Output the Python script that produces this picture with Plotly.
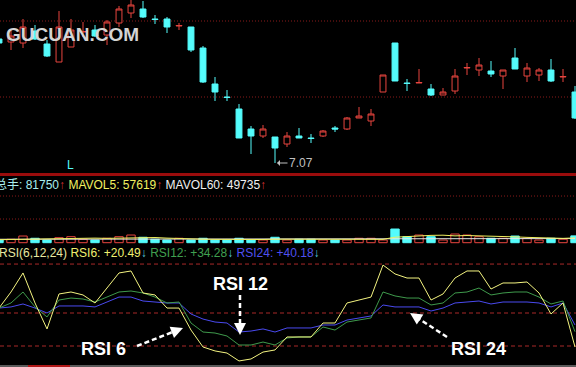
import plotly.graph_objects as go

W, H = 576, 367

# ---------------- data ----------------
idx = list(range(49))
opens  = [8.31,8.28,8.27,8.39,8.26,8.08,8.23,8.38,8.40,8.35,
          8.47,8.57,8.61,8.51,8.51,8.44,8.43,8.22,7.86,7.73,
          7.61,7.41,7.34,7.33,7.26,7.34,7.32,7.34,7.42,7.41,
          7.52,7.49,7.78,8.27,7.87,7.87,7.81,7.75,7.79,8.02,
          8.00,7.99,7.94,8.12,7.94,7.95,8.00,7.93,7.78]
closes = [8.27,8.34,8.43,8.31,8.14,8.43,8.40,8.385,8.34,8.48,
          8.61,8.65,8.53,8.505,8.43,8.445,8.20,7.88,7.78,7.725,
          7.32,7.34,7.41,7.22,7.34,7.32,7.315,7.39,7.41,7.52,
          7.54,7.56,7.95,7.89,7.865,7.875,7.75,7.78,7.94,8.025,
          8.05,7.96,8.00,8.01,8.02,8.00,7.89,7.935,7.52]
highs  = [8.33,8.40,8.51,8.45,8.30,8.59,8.51,8.48,8.45,8.50,
          8.64,8.72,8.69,8.55,8.53,8.47,8.43,8.24,7.93,7.80,
          7.66,7.44,7.45,7.33,7.38,7.42,7.36,7.40,7.44,7.53,
          7.63,7.61,7.95,8.27,7.91,8.01,7.86,7.82,8.01,8.07,
          8.12,8.09,8.00,8.22,8.07,8.02,8.11,8.01,7.84]
lows   = [8.25,8.20,8.22,8.30,8.13,8.08,8.23,8.33,8.33,8.25,
          8.43,8.52,8.52,8.46,8.37,8.40,8.18,7.87,7.69,7.69,
          7.32,7.16,7.32,7.07,7.23,7.32,7.27,7.33,7.38,7.40,
          7.52,7.44,7.78,7.89,7.79,7.87,7.74,7.75,7.76,7.95,
          7.94,7.93,7.81,8.01,7.88,7.89,7.88,7.88,7.51]

volume = [32000,41000,80000,53000,32000,60000,72000,41000,32000,53000,
          72000,92000,65000,41000,32000,53000,32000,53000,32000,32000,
          53000,32000,32000,65000,32000,41000,41000,32000,32000,32000,
          53000,53000,32000,164000,72000,92000,72000,32000,104000,92000,
          72000,53000,53000,80000,53000,32000,53000,41000,81750]
mavol5 = [36000,38000,45000,50000,48000,52000,56000,58000,55000,52000,
          54000,62000,64000,62000,55000,48000,44000,42000,40000,38000,
          40000,40000,38000,42000,42000,40000,42000,38000,36000,34000,
          38000,40000,40000,66000,74000,84000,88000,90000,82000,86000,
          84000,80000,74000,70000,64000,60000,56000,52000,57619]
mavol60 = [41000,41200,41500,41800,42000,42300,42600,42800,43000,43300,
           43600,44000,44200,44300,44300,44400,44200,44000,43800,43600,
           43500,43300,43100,43000,42800,42600,42400,42200,42000,41900,
           41800,41800,41700,43500,44500,45500,46000,46200,47000,47500,
           48000,48200,48400,48700,48900,49100,49300,49500,49735]

rsi6  = [54.5,69.1,86.4,59.1,35.5,67.3,69.1,66.4,59.1,72.7,
         86.4,88.2,68.2,66.4,54.5,54.5,34.5,19.1,15.5,13.6,
         6.4,8.2,14.5,16.4,28.2,28.2,28.2,40.9,40.9,59.1,
         61.8,64.5,93.6,85.5,81.8,81.8,61.8,67.3,81.8,88.2,
         88.2,71.8,77.3,77.3,78.2,68.2,49.1,59.1,19.1]
rsi12 = [54.5,59.1,69.1,55.5,46.4,61.8,63.6,62.7,60.0,64.5,
         69.1,70.0,68.2,64.5,59.1,60.0,40.9,32.7,31.8,29.1,
         20.9,20.9,23.6,20.9,27.3,28.2,28.2,37.3,34.5,41.8,
         43.6,45.5,69.1,65.5,63.6,63.6,57.3,59.1,68.2,69.1,
         72.7,66.4,68.2,69.1,69.1,64.5,58.2,60.9,33.0]
rsi24 = [54.5,55.5,58.2,54.5,50.0,56.4,56.4,56.4,55.5,60.0,
         64.5,64.5,60.9,60.0,59.1,59.1,49.1,44.5,41.8,40.9,
         32.7,33.6,35.5,32.7,36.4,36.4,36.4,39.1,39.1,43.6,
         45.5,47.3,57.3,55.5,55.5,55.5,51.8,54.5,59.1,60.0,
         60.9,58.2,60.0,60.0,60.0,59.1,55.5,59.1,39.1]

low_label = "7.07"
vol_total, mavol5_last, mavol60_last = 81750, 57619, 49735
rsi6_last, rsi12_last, rsi24_last = "+20.49", "+34.28", "+40.18"

price_grid = [8.49, 7.73]
vol_grid = [560000, 284000]
rsi_levels = [94.5, 50, 20]

# ---------------- styles ----------------
RED = "#e8453f"
CYAN = "#54fcfc"
GRID = "#8a1a1a"
FONT = "Liberation Sans, Arial, Noto Sans CJK SC, sans-serif"

def px(x, y):
    return x / W, 1 - y / H

fig = go.Figure()

fig.add_trace(go.Candlestick(
    x=idx, open=opens, high=highs, low=lows, close=closes,
    increasing=dict(line=dict(color=RED, width=1), fillcolor="#000000"),
    decreasing=dict(line=dict(color=CYAN, width=1), fillcolor=CYAN),
    whiskerwidth=0, hoverinfo="skip", showlegend=False))

up = [c >= o for o, c in zip(opens, closes)]
fig.add_trace(go.Bar(
    x=idx, y=volume, yaxis="y2", width=0.7,
    marker=dict(color=["#000000" if u else CYAN for u in up],
                line=dict(color=[RED if u else CYAN for u in up], width=1)),
    hoverinfo="skip", showlegend=False))
fig.add_trace(go.Scatter(x=idx, y=mavol60, yaxis="y2", mode="lines",
                         line=dict(color="#e8e8e8", width=1), hoverinfo="skip", showlegend=False))
fig.add_trace(go.Scatter(x=idx, y=mavol5, yaxis="y2", mode="lines",
                         line=dict(color="#f0f060", width=1), hoverinfo="skip", showlegend=False))

fig.add_trace(go.Scatter(x=idx, y=rsi24, yaxis="y3", mode="lines",
                         line=dict(color="#4a4af0", width=1), hoverinfo="skip", showlegend=False))
fig.add_trace(go.Scatter(x=idx, y=rsi12, yaxis="y3", mode="lines",
                         line=dict(color="#3f9a4c", width=1), hoverinfo="skip", showlegend=False))
fig.add_trace(go.Scatter(x=idx, y=rsi6, yaxis="y3", mode="lines",
                         line=dict(color="#f4f480", width=1), hoverinfo="skip", showlegend=False))

shapes = []
for p in price_grid:
    shapes.append(dict(type="line", xref="paper", x0=0, x1=1, yref="y", y0=p, y1=p,
                       line=dict(color=GRID, width=1, dash="1px,2px"), layer="below"))
for v in vol_grid:
    shapes.append(dict(type="line", xref="paper", x0=0, x1=1, yref="y2", y0=v, y1=v,
                       line=dict(color=GRID, width=1, dash="1px,2px"), layer="below"))
for r in rsi_levels:
    shapes.append(dict(type="line", xref="paper", x0=0, x1=1, yref="y3", y0=r, y1=r,
                       line=dict(color="#a82828", width=1, dash="4px,3px"), layer="below"))
# panel separator
sx0, sy = px(0, 174.5)
shapes.append(dict(type="line", xref="paper", yref="paper", x0=0, x1=1, y0=sy, y1=sy,
                   line=dict(color="#9a0c0c", width=3)))
# bottom strip
_, b0 = px(0, 367)
_, b1 = px(0, 365)
shapes.append(dict(type="rect", xref="paper", yref="paper", x0=0, x1=1, y0=b0, y1=b1,
                   fillcolor="#5a5a5a", line=dict(width=0)))
rx0, _ = px(28, 0)
rx1, _ = px(70, 0)
shapes.append(dict(type="rect", xref="paper", yref="paper", x0=rx0, x1=rx1, y0=b0, y1=b1,
                   fillcolor="#b01818", line=dict(width=0)))

# dashed arrow shafts
arrows = [((240, 295), (240, 335)), ((137, 346), (183, 328)), ((447, 337), (410, 313))]
annotations = []
for (tx, ty), (hx, hy) in arrows:
    dx, dy = hx - tx, hy - ty
    L = (dx * dx + dy * dy) ** 0.5
    ux, uy = dx / L, dy / L
    ex, ey = hx - 10 * ux, hy - 10 * uy
    a0 = px(tx, ty)
    a1 = px(ex, ey)
    shapes.append(dict(type="line", xref="paper", yref="paper", x0=a0[0], y0=a0[1], x1=a1[0], y1=a1[1],
                       line=dict(color="#ffffff", width=2.5, dash="5px,3px")))
    tip = px(hx, hy)
    annotations.append(dict(xref="paper", yref="paper", x=tip[0], y=tip[1], text="",
                            showarrow=True, arrowhead=2, arrowsize=1.2, arrowwidth=2,
                            arrowcolor="#ffffff", ax=-14 * ux, ay=-14 * uy))

def label(x, y, text, size=12, color="#ffffff", anchor="center", bold=False):
    p = px(x, y)
    annotations.append(dict(xref="paper", yref="paper", x=p[0], y=p[1], text=text,
                            showarrow=False, xanchor=anchor, yanchor="middle",
                            font=dict(family=FONT, size=size, color=color,
                                      weight="bold" if bold else "normal")))

label(72, 34, "GUCUAN.COM", size=19, color="#d4d4d4", bold=True)
label(70, 165, "L", size=12, color=CYAN)

arr_red = '<span style="color:#d03030">↑</span>'
vol_text = (f'<span style="color:#a8eeee">总手: {vol_total}</span>{arr_red} '
            f'<span style="color:#f0f060">MAVOL5: {mavol5_last}</span>{arr_red} '
            f'<span style="color:#f0f0f0">MAVOL60: {mavol60_last}</span>{arr_red}')
label(-7, 185, vol_text, size=12, anchor="left")

arr_dn = '<span style="color:#54c8d8">↓</span>'
rsi_text = (f'<span style="color:#e8e8a0">RSI(6,12,24)</span> '
            f'<span style="color:#f0f070">RSI6: {rsi6_last}</span>{arr_dn} '
            f'<span style="color:#40a050">RSI12: {rsi12_last}</span>{arr_dn} '
            f'<span style="color:#5050f0">RSI24: {rsi24_last}</span>{arr_dn}')
label(-3, 253, rsi_text, size=12, anchor="left")

label(240, 284, "RSI 12", size=18, bold=True)
label(103, 349, "RSI 6", size=18, bold=True)
label(478, 349, "RSI 24", size=18, bold=True)

# low price marker
lp = px(277, 163)
annotations.append(dict(xref="paper", yref="paper", x=lp[0], y=lp[1], text=low_label,
                        showarrow=True, arrowhead=1, arrowsize=1, arrowwidth=1,
                        arrowcolor="#c0c0c0", ax=24, ay=0,
                        font=dict(family=FONT, size=12, color="#c0c0c0")))

fig.update_layout(
    width=W, height=H, margin=dict(l=0, r=0, t=0, b=0),
    paper_bgcolor="#000000", plot_bgcolor="#000000",
    showlegend=False, shapes=shapes, annotations=annotations,
    xaxis=dict(range=[1 / 12, 577 / 12], visible=False, rangeslider=dict(visible=False), fixedrange=True),
    yaxis=dict(range=[5.03, 8.70], visible=False, fixedrange=True),
    yaxis2=dict(range=[-1491600, 2912400], overlaying="y", visible=False, fixedrange=True),
    yaxis3=dict(range=[0.909, 334.545], overlaying="y", visible=False, fixedrange=True),
)

fig.write_html("out.html", config={"displayModeBar": False})
